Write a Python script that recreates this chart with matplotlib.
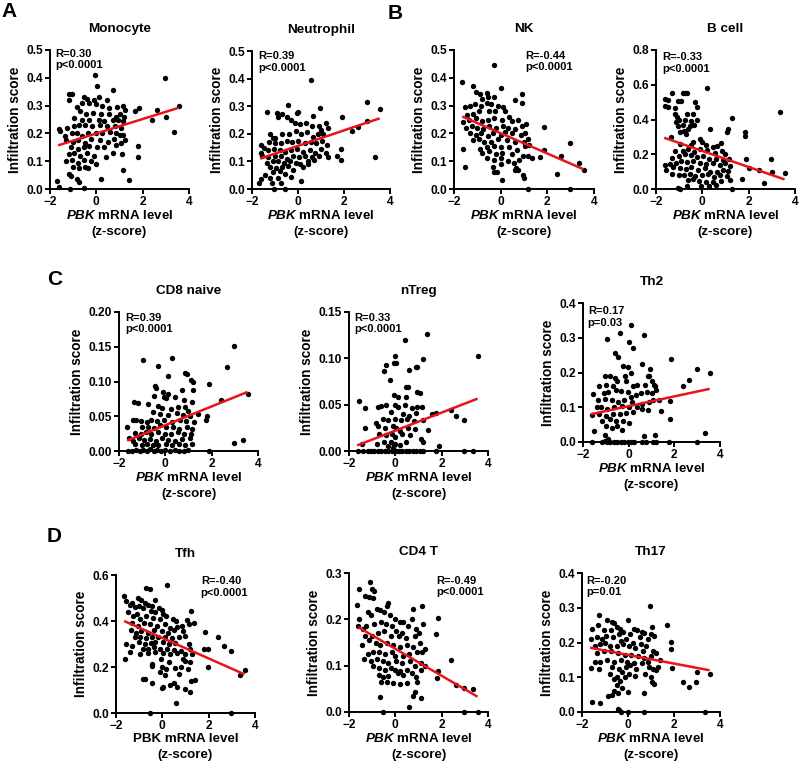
import matplotlib
matplotlib.use("Agg")
import matplotlib.pyplot as plt
from matplotlib.ticker import FormatStrFormatter, FixedLocator

plt.rcParams['font.family'] = ['Liberation Sans', 'DejaVu Sans']
plt.rcParams['font.weight'] = 'bold'
plt.rcParams['mathtext.fontset'] = 'custom'
plt.rcParams['mathtext.it'] = 'Liberation Sans:italic:bold'
plt.rcParams['mathtext.rm'] = 'Liberation Sans:bold'
plt.rcParams['mathtext.bf'] = 'Liberation Sans:bold'

# ---------------- data ----------------
mono_pts = [(-0.05,0.41),(2.98,0.40),(0.05,0.37),(0.7,0.355),
(-1.2,0.34),(-1.05,0.34),(-1.2,0.32),(-0.55,0.33),(-0.4,0.325),(-0.1,0.32),(0.1,0.33),(0.45,0.32),
(-0.85,0.295),(-0.6,0.31),(-0.3,0.31),(0.0,0.305),(0.25,0.3),(0.55,0.29),(0.9,0.295),(1.15,0.30),(1.25,0.285),(1.85,0.29),(1.65,0.28),(3.55,0.30),(3.0,0.26),(2.6,0.285),(2.4,0.25),(3.35,0.205),
(-0.7,0.28),(-0.45,0.27),(-0.15,0.275),(0.2,0.27),(0.55,0.27),(0.85,0.26),(1.0,0.27),(1.2,0.26),
(-0.95,0.255),(-0.6,0.25),(-0.3,0.25),(0.1,0.25),(0.35,0.245),(0.7,0.25),(0.95,0.25),(1.15,0.245),
(-1.6,0.215),(-1.55,0.21),(-1.25,0.22),(-0.95,0.225),(-0.75,0.23),(-0.5,0.23),(-0.2,0.225),(0.15,0.23),(0.45,0.225),(0.8,0.225),(1.05,0.22),
(-1.35,0.19),(-1.05,0.2),(-0.85,0.2),(-0.6,0.19),(-0.35,0.2),(0.0,0.2),(0.25,0.2),(0.6,0.205),(0.85,0.2),(1.0,0.195),(1.15,0.195),
(-1.3,0.175),(-1.0,0.17),(-0.8,0.175),(-0.5,0.165),(-0.25,0.18),(0.15,0.175),(0.5,0.17),(0.75,0.18),(1.05,0.165),(1.25,0.175),
(-1.1,0.15),(-0.8,0.145),(-0.55,0.15),(-0.3,0.155),(0.05,0.15),(0.35,0.15),(1.8,0.155),(0.85,0.16),
(-1.2,0.125),(-0.95,0.13),(-0.7,0.12),(-0.4,0.13),(-0.1,0.12),(0.4,0.115),(0.7,0.13),(1.1,0.125),(1.8,0.115),
(-1.3,0.1),(-1.05,0.105),(-0.8,0.095),(-0.55,0.105),(-0.25,0.1),(0.0,0.09),
(-1.0,0.08),(-0.75,0.075),(-0.5,0.08),(-0.35,0.075),
(-1.2,0.055),(-1.1,0.045),(-0.85,0.035),(-0.75,0.025),(0.2,0.037),(1.15,0.07),(1.4,0.033),
(-1.7,0.028),(-1.6,0.008),(-1.15,0.0),(-0.55,0.003)]
mono_fit = [(-1.65, 0.157), (3.55, 0.292)]

neut_pts = [(0.55,0.395),(3.0,0.315),(3.55,0.29),(-0.45,0.305),(0.0,0.28),(-0.05,0.275),(-1.35,0.278),(-0.9,0.275),(-0.7,0.27),(-0.85,0.26),(-0.5,0.26),(0.65,0.265),(0.95,0.295),(1.9,0.26),(3.0,0.245),(2.6,0.225),(2.35,0.21),
(-0.3,0.25),(-0.15,0.24),(0.1,0.235),(0.35,0.24),(0.6,0.23),(0.9,0.23),(1.2,0.24),(1.0,0.215),(1.3,0.22),
(-1.2,0.2),(-1.1,0.185),(-1.0,0.185),(-0.7,0.2),(-0.4,0.2),(-0.1,0.21),(0.15,0.2),(0.4,0.205),(0.65,0.19),(0.85,0.2),(1.1,0.2),
(-1.6,0.16),(-1.5,0.15),(-1.25,0.17),(-1.0,0.165),(-0.75,0.165),(-0.5,0.175),(-0.25,0.17),(0.0,0.175),(0.3,0.165),(0.55,0.17),(0.8,0.165),(1.05,0.175),(1.25,0.16),
(-1.6,0.13),(-1.3,0.14),(-1.05,0.145),(-0.8,0.14),(-0.55,0.135),(-0.3,0.14),(-0.05,0.145),(0.2,0.135),(0.5,0.14),(0.75,0.13),(1.0,0.145),(1.2,0.13),(1.85,0.145),
(-1.55,0.12),(-1.3,0.115),(-1.0,0.12),(-0.75,0.12),(-0.5,0.11),(-0.2,0.12),(0.05,0.115),(0.3,0.12),(0.6,0.115),(0.9,0.12),(1.3,0.115),(1.7,0.12),(1.85,0.105),(3.35,0.115),
(-1.35,0.095),(-1.1,0.1),(-0.85,0.1),(-0.6,0.095),(-0.35,0.1),(-0.1,0.095),(0.1,0.09),(0.45,0.1),(0.7,0.105),
(-1.2,0.08),(-0.95,0.075),(-0.7,0.08),(-0.45,0.085),(-0.2,0.07),(0.2,0.08),(0.45,0.09),
(-1.45,0.05),(-1.1,0.06),(-0.8,0.065),(-0.55,0.055),(-1.2,0.04),(-0.85,0.04),(-0.3,0.045),
(-1.7,0.02),(-1.6,0.035),(-1.15,0.02),(-0.75,0.02),(0.15,0.028),(-1.05,0.0),(-0.55,0.0)]
neut_fit = [(-1.65, 0.11), (3.55, 0.256)]

nk_pts = [(-0.3,0.445),(-1.65,0.385),(0.0,0.365),(-1.2,0.37),(-1.05,0.35),(-0.9,0.34),(-0.6,0.345),(-0.55,0.33),(-0.3,0.33),(-0.8,0.325),(0.6,0.32),(0.9,0.34),(0.9,0.31),
(-1.55,0.295),(-1.3,0.3),(-1.1,0.305),(-0.85,0.3),(-0.6,0.31),(-0.4,0.305),(-0.1,0.3),(0.1,0.295),(0.2,0.28),(-0.25,0.28),(-0.5,0.28),(-0.95,0.28),(-1.2,0.27),(-1.45,0.265),
(-1.6,0.24),(-1.35,0.25),(-1.05,0.255),(-0.8,0.245),(-0.55,0.25),(-0.3,0.255),(0.05,0.25),(0.35,0.26),(0.5,0.245),(0.75,0.25),(1.1,0.235),(0.9,0.225),
(-1.5,0.22),(-1.25,0.225),(-1.0,0.22),(-0.75,0.215),(-0.5,0.225),(-0.2,0.22),(0.1,0.225),(0.3,0.22),(0.6,0.215),(1.85,0.222),
(-1.3,0.2),(-1.05,0.195),(-0.85,0.2),(-0.55,0.19),(-0.35,0.2),(0.0,0.195),(0.2,0.205),(0.5,0.2),(0.85,0.195),(1.05,0.2),(1.15,0.18),
(-1.2,0.175),(-0.95,0.18),(-0.7,0.17),(-0.4,0.17),(-0.1,0.18),(0.25,0.175),(0.6,0.17),(1.0,0.17),(1.2,0.16),
(-1.6,0.145),(-0.9,0.145),(-0.6,0.15),(-0.3,0.155),(0.0,0.15),(0.35,0.15),(0.7,0.14),(1.05,0.155),(1.85,0.14),(2.95,0.165),
(-0.8,0.13),(-0.5,0.135),(-0.2,0.125),(0.05,0.13),(0.5,0.125),(0.95,0.12),(1.15,0.12),(1.35,0.11),(1.7,0.115),(2.6,0.12),
(-0.6,0.11),(-0.3,0.105),(0.0,0.11),(0.3,0.1),(0.8,0.105),
(-1.55,0.078),(-0.35,0.08),(0.0,0.09),(0.65,0.075),(0.75,0.07),(0.95,0.05),(1.0,0.04),(0.55,0.095),
(-0.3,0.06),(-0.15,0.06),(0.6,0.07),(0.05,0.033),(2.4,0.055),(3.35,0.093),(3.55,0.068),(1.15,0.0),(2.95,0.0)]
nk_fit = [(-1.65, 0.261), (3.55, 0.071)]

bcell_pts = [(0.2,0.58),(-1.3,0.555),(-0.85,0.555),(-0.65,0.555),(-0.75,0.555),(-1.6,0.52),(-1.5,0.51),(-1.05,0.505),(-0.9,0.505),(-0.3,0.5),(-1.6,0.48),(-1.5,0.47),(-1.2,0.465),(-0.25,0.47),(-1.2,0.43),(-1.1,0.415),(-1.0,0.4),(-1.15,0.385),(-0.65,0.43),(-0.4,0.43),(-0.75,0.4),(-0.5,0.39),(-0.25,0.4),(1.3,0.41),(3.35,0.445),
(-1.05,0.365),(-0.85,0.37),(-0.55,0.365),(-0.35,0.37),(-0.6,0.345),(-0.8,0.335),(-0.95,0.33),(-0.7,0.315),(-1.35,0.3),(0.35,0.345),(1.1,0.345),(1.05,0.33),(1.85,0.33),(1.85,0.305),
(-0.95,0.26),(-0.4,0.27),(-0.1,0.29),(0.0,0.27),(0.15,0.255),(0.65,0.25),(0.8,0.265),(0.45,0.24),(-0.5,0.255),
(-1.2,0.22),(-0.85,0.22),(-0.6,0.23),(-0.35,0.215),(-0.1,0.23),(0.2,0.225),(0.55,0.21),(0.85,0.22),(1.0,0.2),
(-1.3,0.18),(-1.0,0.19),(-0.75,0.2),(-0.5,0.195),(-0.25,0.185),(0.05,0.19),(0.3,0.17),(0.6,0.175),(0.9,0.165),(1.15,0.175),(1.9,0.17),(2.95,0.17),
(-1.6,0.14),(-1.4,0.145),(-1.15,0.15),(-0.9,0.16),(-0.65,0.155),(-0.4,0.16),(-0.1,0.15),(0.15,0.145),(0.45,0.15),(0.75,0.14),(1.0,0.15),(1.2,0.13),
(-1.55,0.11),(-1.25,0.125),(-0.95,0.12),(-0.7,0.115),(-0.5,0.125),(-0.2,0.11),(0.1,0.12),(0.35,0.1),(0.65,0.1),(0.9,0.11),(1.1,0.105),(2.0,0.12),(2.45,0.11),(3.0,0.1),(3.55,0.09),
(-1.3,0.085),(-1.0,0.08),(-0.8,0.08),(-0.55,0.085),(-0.3,0.075),(0.0,0.08),(0.25,0.085),(0.5,0.07),(0.75,0.08),(1.05,0.075),
(-0.6,0.05),(-0.4,0.055),(-0.15,0.045),(0.15,0.04),(0.45,0.04),(0.8,0.045),(1.2,0.05),(1.7,0.06),
(-0.65,0.02),(-0.05,0.02),(0.3,0.02),(0.6,0.025),(2.65,0.035),(-1.05,0.005),(-0.95,0.0),(1.3,0.0)]
bcell_fit = [(-1.65, 0.295), (3.55, 0.055)]

cd8_pts = [(2.95,0.151),(0.3,0.134),(-0.95,0.131),(-0.3,0.123),(2.65,0.121),(0.1,0.108),(0.95,0.111),(0.85,0.112),(1.2,0.1),(1.1,0.102),(1.9,0.096),(-0.45,0.094),(-0.4,0.09),(-0.1,0.085),(0.1,0.082),(0.7,0.088),(1.2,0.088),(3.55,0.082),(-0.05,0.078),(0.05,0.076),(0.4,0.078),(-0.5,0.079),(2.4,0.073),(0.8,0.074),(1.15,0.07),
(-1.35,0.07),(-1.2,0.069),(-0.75,0.068),(-0.3,0.065),(-0.15,0.062),(0.25,0.06),(0.55,0.063),(0.85,0.064),(1.0,0.058),
(-0.55,0.056),(-0.25,0.053),(0.1,0.052),(0.5,0.055),(0.75,0.052),(1.05,0.05),(1.4,0.053),(1.8,0.05),(1.75,0.045),
(-1.4,0.045),(-1.25,0.044),(-1.05,0.043),(-0.8,0.042),(-0.6,0.045),(-0.35,0.043),(-0.05,0.045),(0.3,0.042),(0.65,0.045),(0.9,0.043),(1.25,0.042),
(-1.0,0.035),(-0.75,0.034),(-0.5,0.033),(-0.25,0.037),(0.05,0.035),(0.35,0.034),(0.6,0.032),(0.95,0.035),(1.15,0.032),(-1.65,0.034),
(-1.3,0.026),(-1.05,0.025),(-0.85,0.027),(-0.6,0.025),(-0.3,0.027),(0.0,0.024),(0.25,0.025),(0.55,0.027),(0.8,0.024),(1.1,0.025),
(-1.55,0.018),(-1.4,0.015),(-1.15,0.018),(-0.9,0.016),(-0.65,0.017),(-0.4,0.015),(-0.15,0.018),(0.1,0.016),(0.4,0.015),(0.7,0.017),(1.05,0.018),
(-1.3,0.01),(-1.0,0.008),(-0.8,0.01),(-0.55,0.008),(-0.3,0.009),(0.05,0.01),(0.3,0.008),(0.6,0.01),(0.85,0.008),(1.15,0.01),(2.95,0.012),(3.35,0.016),
(-1.6,0.0),(-1.45,0.0),(-1.25,0.002),(-1.1,0.0),(-0.95,0.002),(-0.8,0.0),(-0.65,0.003),(-0.5,0.0),(-0.35,0.002),(-0.2,0.0),(0.0,0.001),(0.2,0.0),(0.4,0.002),(0.6,0.0),(0.8,0.0),(1.0,0.001),(1.9,0.0)]
cd8_fit = [(-1.65, 0.015), (3.55, 0.085)]

ntreg_pts = [(1.35,0.126),(0.4,0.12),(3.55,0.103),(0.0,0.103),(1.2,0.099),(-0.05,0.095),(0.05,0.095),(-0.4,0.093),(-0.5,0.086),(0.9,0.091),(0.95,0.091),(0.6,0.087),(-0.25,0.077),(0.45,0.069),(0.55,0.069),(0.95,0.064),(-0.05,0.06),(0.1,0.058),(0.45,0.058),(1.05,0.063),
(-1.55,0.054),(-0.75,0.048),(-0.6,0.049),(-0.4,0.05),(0.0,0.05),(0.1,0.048),(0.4,0.05),(0.7,0.046),(0.95,0.048),(1.15,0.047),
(-1.3,0.046),(-0.2,0.042),(0.35,0.04),(0.6,0.038),(0.9,0.041),(1.6,0.04),(1.75,0.041),(2.4,0.044),(2.6,0.038),
(-0.55,0.035),(-0.3,0.033),(0.0,0.035),(0.25,0.033),(0.5,0.035),(0.8,0.032),(1.2,0.033),(2.95,0.033),
(-0.85,0.03),(-0.75,0.027),(-0.45,0.025),(-0.1,0.027),(0.05,0.025),(0.2,0.022),(0.55,0.025),(0.85,0.024),(1.4,0.023),(-1.3,0.025),
(-0.7,0.018),(-0.4,0.017),(-0.15,0.018),(0.0,0.015),(0.3,0.018),(0.65,0.017),(1.1,0.013),
(-1.45,0.008),(-0.8,0.008),(-0.5,0.01),(-0.2,0.01),(0.0,0.008),(0.2,0.007),(0.45,0.01),(1.2,0.01),(1.9,0.005),(-0.3,0.005),
(-1.6,0.0),(-1.4,0.0),(-1.2,0.0),(-1.05,0.0),(-0.9,0.0),(-0.75,0.0),(-0.6,0.0),(-0.45,0.0),(-0.3,0.0),(-0.15,0.0),(-0.05,0.0),(0.05,0.0),(0.15,0.0),(0.3,0.0),(0.45,0.0),(0.6,0.0),(0.75,0.0),(0.9,0.0),(1.05,0.0),(1.2,0.0),(1.75,0.0),(2.95,0.0),(3.35,0.0),(-0.1,0.003),(-0.05,0.006)]
ntreg_fit = [(-1.65, 0.006), (3.55, 0.0565)]

th2_pts = [(0.1,0.337),(-0.4,0.315),(0.65,0.307),(-0.95,0.295),(0.0,0.288),(0.2,0.27),(-0.6,0.255),(-0.45,0.245),(1.85,0.24),(-0.25,0.22),(-0.05,0.215),(0.6,0.225),(3.0,0.21),(3.55,0.2),(0.9,0.19),(0.95,0.21),
(-1.05,0.19),(-0.8,0.19),(-0.6,0.185),(-0.15,0.19),(0.1,0.2),(0.85,0.19),(2.65,0.178),(2.4,0.16),
(-1.3,0.16),(-1.0,0.165),(-0.7,0.16),(-0.5,0.175),(-0.1,0.175),(0.2,0.16),(0.35,0.165),(0.7,0.165),(1.0,0.175),(1.1,0.165),(1.15,0.16),
(-1.55,0.138),(-1.1,0.14),(-0.9,0.145),(-0.55,0.15),(-0.35,0.148),(-0.05,0.145),(0.1,0.13),(0.3,0.135),(0.55,0.14),(0.8,0.145),(1.0,0.14),(1.2,0.15),
(-1.35,0.12),(-1.05,0.125),(-0.75,0.12),(-0.45,0.115),(-0.2,0.12),(0.15,0.115),(0.6,0.11),(0.9,0.115),(1.05,0.12),(1.35,0.12),(1.8,0.118),
(-1.4,0.1),(-1.2,0.1),(-0.95,0.095),(-0.65,0.1),(-0.3,0.105),(0.0,0.1),(0.35,0.1),(0.6,0.095),(0.85,0.092),(1.4,0.09),
(-1.6,0.078),(-1.3,0.08),(-1.0,0.075),(-0.7,0.08),(-0.4,0.08),(-0.1,0.083),(0.2,0.085),
(-1.15,0.06),(-0.8,0.065),(-0.55,0.06),(-0.25,0.06),(0.0,0.055),(1.8,0.067),
(-1.0,0.045),(-0.75,0.04),(-0.5,0.045),(-0.3,0.035),(-1.5,0.033),
(-1.05,0.02),(-0.9,0.01),(0.65,0.018),(1.15,0.02),(3.35,0.027),
(-1.6,0.0),(-1.15,0.0),(-1.05,0.003),(-0.95,0.0),(-0.8,0.0),(-0.65,0.0),(-0.5,0.0),(-0.35,0.0),(-0.2,0.0),(-0.05,0.0),(0.1,0.0),(0.25,0.0),(0.6,0.0),(0.75,0.0),(1.05,0.0),(1.2,0.0),(1.75,0.0),(3.0,0.0)]
th2_fit = [(-1.65, 0.08), (3.55, 0.153)]

tfh_pts = [(0.2,0.555),(-0.7,0.545),(-0.55,0.54),(-1.65,0.51),(-1.05,0.5),(-0.9,0.49),(-0.3,0.49),(-1.55,0.485),(-1.3,0.48),(-0.75,0.48),(-0.6,0.47),(-0.45,0.465),(-0.15,0.455),(0.0,0.45),
(-1.4,0.47),(-1.2,0.46),(-1.0,0.465),(-0.85,0.455),(-0.5,0.445),(-0.3,0.44),(0.05,0.43),(1.25,0.445),
(-1.5,0.44),(-1.25,0.42),(-1.1,0.43),(-0.95,0.41),(-0.7,0.42),(-0.4,0.415),(-0.1,0.41),(0.15,0.42),(0.45,0.41),(0.6,0.4),(1.05,0.405),(1.35,0.39),
(-1.3,0.39),(-1.05,0.38),(-0.8,0.39),(-0.55,0.385),(-0.25,0.38),(0.1,0.385),(0.35,0.37),(0.65,0.375),(0.85,0.38),(1.15,0.385),
(-1.35,0.36),(-1.15,0.35),(-0.9,0.355),(-0.6,0.35),(-0.35,0.36),(0.0,0.355),(0.25,0.35),(0.5,0.36),(0.9,0.355),(1.85,0.352),(2.4,0.33),
(-1.2,0.33),(-0.95,0.33),(-0.7,0.325),(-0.45,0.33),(-0.2,0.33),(0.1,0.33),(0.4,0.325),(0.7,0.33),(1.0,0.335),
(-1.0,0.31),(-0.75,0.3),(-0.5,0.305),(-0.3,0.31),(0.05,0.31),(0.3,0.3),(0.55,0.305),(1.15,0.3),(2.65,0.29),
(-1.55,0.3),(-1.3,0.29),(-0.85,0.28),(-0.6,0.28),(-0.35,0.285),(-0.1,0.28),(0.2,0.28),(0.5,0.275),(0.8,0.27),(1.2,0.28),(1.8,0.278),(1.95,0.278),(2.95,0.27),
(-1.4,0.265),(-0.95,0.255),(-0.6,0.26),(-0.3,0.265),(0.05,0.26),(0.35,0.255),(0.65,0.26),(1.0,0.255),(1.3,0.255),
(-1.6,0.235),(-0.45,0.215),(-0.05,0.235),(0.3,0.22),(0.9,0.235),(1.2,0.22),(1.0,0.225),
(-0.45,0.205),(0.0,0.2),(0.15,0.19),(0.55,0.195),(0.8,0.2),(1.1,0.19),(1.95,0.2),(3.35,0.165),(3.55,0.185),
(-0.1,0.18),(0.1,0.165),(0.7,0.17),(1.4,0.145),(1.25,0.14),
(-0.85,0.15),(-0.75,0.15),(-0.45,0.13),(0.35,0.12),(0.0,0.11),(0.05,0.115),(0.5,0.13),(0.65,0.115),(1.0,0.105),(1.2,0.09),
(0.6,0.043),(-0.55,0.0),(2.95,0.0)]
tfh_fit = [(-1.65, 0.40), (3.55, 0.168)]

cd4_pts = [(-1.1,0.28),(-1.55,0.265),(-1.0,0.265),(-0.9,0.262),(-1.3,0.25),(-1.15,0.248),(-0.95,0.245),(-1.65,0.232),(-0.3,0.235),(-0.35,0.228),(1.15,0.228),(0.75,0.222),
(-1.55,0.2),(-1.2,0.215),(-1.05,0.21),(-0.8,0.222),(-0.65,0.22),(-0.5,0.215),(-0.25,0.21),(0.0,0.2),(0.2,0.195),(0.35,0.195),(0.7,0.2),(1.85,0.203),
(-1.4,0.18),(-1.25,0.185),(-0.9,0.19),(-0.6,0.195),(-0.4,0.19),(-0.15,0.185),(0.05,0.175),(0.3,0.17),(0.55,0.185),(0.9,0.18),(1.2,0.19),(1.75,0.168),
(-1.6,0.185),(-1.3,0.165),(-1.0,0.165),(-0.75,0.17),(-0.5,0.175),(-0.2,0.165),(0.15,0.165),(0.45,0.16),(0.85,0.165),(1.0,0.17),
(-1.45,0.145),(-1.15,0.155),(-0.85,0.15),(-0.65,0.145),(-0.35,0.15),(-0.1,0.145),(0.2,0.14),(0.5,0.145),(0.75,0.14),(1.05,0.15),(1.3,0.135),
(-1.2,0.125),(-0.95,0.13),(-0.7,0.13),(-0.45,0.125),(-0.15,0.13),(0.0,0.12),(0.35,0.12),(0.6,0.125),(0.95,0.13),(1.15,0.13),
(-1.35,0.115),(-1.05,0.11),(-0.8,0.115),(-0.55,0.11),(-0.3,0.105),(0.05,0.11),(0.3,0.105),(0.65,0.11),(0.85,0.1),(1.1,0.105),(1.3,0.1),(2.4,0.113),
(-0.95,0.1),(-0.7,0.095),(-0.45,0.09),(-0.2,0.095),(0.0,0.09),(0.2,0.088),(0.5,0.09),(0.7,0.085),(1.1,0.09),(1.85,0.088),
(-0.7,0.08),(-0.55,0.075),(-0.3,0.078),(0.1,0.085),(0.35,0.08),(0.9,0.075),(1.8,0.073),
(-0.6,0.065),(-0.35,0.065),(-0.1,0.063),(0.2,0.06),(0.5,0.063),(0.95,0.065),(2.6,0.058),(2.95,0.052),(3.35,0.049),
(-0.65,0.033),(0.75,0.035),(0.85,0.043),(1.1,0.031),(0.6,0.01),(-0.55,0.0),(2.95,0.0),(3.55,0.0)]
cd4_fit = [(-1.6, 0.183), (3.55, 0.033)]

th17_pts = [(0.95,0.305),(-1.25,0.28),(-0.9,0.265),(0.0,0.265),(-0.7,0.258),(-0.6,0.255),(-1.3,0.25),(-0.5,0.245),(-0.35,0.24),(0.25,0.24),(0.4,0.235),(0.6,0.23),(0.7,0.228),(1.05,0.245),(1.7,0.25),(1.0,0.225),(1.15,0.22),
(-1.55,0.238),(-1.05,0.235),(-0.75,0.235),(-0.4,0.225),(-0.2,0.23),(0.1,0.225),(0.5,0.215),(0.85,0.21),
(-1.6,0.21),(-1.35,0.215),(-1.15,0.21),(-0.95,0.22),(-0.65,0.215),(-0.3,0.205),(-0.1,0.21),(0.2,0.2),(0.55,0.195),(0.8,0.19),(1.85,0.202),
(-1.45,0.19),(-1.2,0.195),(-1.0,0.2),(-0.8,0.19),(-0.5,0.19),(-0.2,0.195),(0.05,0.19),(0.3,0.185),(0.65,0.175),(1.85,0.18),(1.2,0.17),(1.1,0.175),
(-1.35,0.17),(-1.05,0.175),(-0.75,0.175),(-0.45,0.17),(-0.15,0.165),(0.15,0.165),(0.45,0.16),(0.7,0.155),(1.0,0.16),
(-1.45,0.145),(-1.2,0.145),(-0.9,0.15),(-0.6,0.145),(-0.3,0.15),(-0.05,0.145),(0.25,0.14),(0.6,0.14),(0.85,0.145),(1.4,0.15),
(-1.6,0.128),(-1.25,0.125),(-0.7,0.13),(-0.4,0.125),(-0.1,0.13),(0.1,0.135),(0.35,0.125),(0.9,0.13),(1.1,0.125),(1.3,0.13),(1.9,0.127),
(-0.8,0.11),(-0.5,0.1),(-0.25,0.115),(0.05,0.11),(0.3,0.105),(0.75,0.11),(1.0,0.1),(1.2,0.12),(3.0,0.115),(3.55,0.11),
(-0.6,0.095),(-0.35,0.09),(-0.15,0.1),(1.05,0.085),(1.15,0.08),(2.4,0.085),(2.95,0.085),(2.65,0.072),
(-0.5,0.078),(-0.25,0.07),(-0.6,0.06),(-0.85,0.045),(-0.7,0.05),(-0.45,0.055),(0.0,0.058),(0.7,0.055),
(-1.55,0.028),(-1.2,0.025),(-0.45,0.01),(-0.4,0.005),(-0.3,0.0),(0.0,0.0),(0.7,0.0),(3.35,0.0)]
th17_fit = [(-1.65, 0.185), (3.55, 0.12)]

titles = ["Monocyte", "Neutrophil", "NK", "B cell", "CD8 naive", "nTreg", "Th2", "Tfh", "CD4 T", "Th17"]
stats = ["R=0.30\np<0.0001", "R=0.39\np<0.0001", "R=-0.44\np<0.0001", "R=-0.33\np<0.0001",
         "R=0.39\np<0.0001", "R=0.33\np<0.0001", "R=0.17\np=0.03",
         "R=-0.40\np<0.0001", "R=-0.49\np<0.0001", "R=-0.20\np=0.01"]
yticks = [[0.0, 0.1, 0.2, 0.3, 0.4, 0.5], [0.0, 0.1, 0.2, 0.3, 0.4, 0.5],
          [0.0, 0.1, 0.2, 0.3, 0.4, 0.5], [0.0, 0.2, 0.4, 0.6, 0.8],
          [0.00, 0.05, 0.10, 0.15, 0.20], [0.00, 0.05, 0.10, 0.15],
          [0.0, 0.1, 0.2, 0.3, 0.4], [0.0, 0.2, 0.4, 0.6],
          [0.0, 0.1, 0.2, 0.3], [0.0, 0.1, 0.2, 0.3, 0.4]]
xticks = [-2, 0, 2, 4]
panel_letters = ["A", "B", "C", "D"]

pts_all = [mono_pts, neut_pts, nk_pts, bcell_pts, cd8_pts, ntreg_pts, th2_pts, tfh_pts, cd4_pts, th17_pts]
fits_all = [mono_fit, neut_fit, nk_fit, bcell_fit, cd8_fit, ntreg_fit, th2_fit, tfh_fit, cd4_fit, th17_fit]

# ---------------- layout (pixels) ----------------
W, H = 800, 771
boxes = [(50, 50, 139, 139), (252, 51, 138, 138), (454, 50, 140, 139), (656, 50, 139, 139),
         (119, 312, 139, 139), (349, 312, 139, 139), (583, 303, 137, 139),
         (116, 575, 139, 138), (349, 573, 139, 139), (582, 573, 138, 139)]
stat_pos = [(0.035, 1.01), (0.045, 1.0), (0.51, 0.995), (0.045, 0.985),
            (0.045, 0.995), (0.04, 0.995), (0.035, 0.975),
            (0.61, 0.99), (0.63, 0.98), (0.03, 0.98)]
yfmt = ["%.1f"] * 4 + ["%.2f", "%.2f", "%.1f"] + ["%.1f"] * 3
italic_label = [True] * 7 + [False, True, True]

fig = plt.figure(figsize=(W / 100, H / 100), dpi=100)

for i in range(10):
    l, t, w, h = boxes[i]
    ax = fig.add_axes([l / W, (H - t - h) / H, w / W, h / H])
    xs = [p[0] for p in pts_all[i]]
    ys = [p[1] for p in pts_all[i]]
    ax.scatter(xs, ys, s=15, color="black", linewidths=0, clip_on=False, zorder=3)
    fx = [p[0] for p in fits_all[i]]
    fy = [p[1] for p in fits_all[i]]
    ax.plot(fx, fy, color="#e8141b", lw=1.8, zorder=4, solid_capstyle="butt")
    ax.set_xlim(-2, 4)
    ax.set_ylim(yticks[i][0], yticks[i][-1])
    ax.xaxis.set_major_locator(FixedLocator(xticks))
    ax.yaxis.set_major_locator(FixedLocator(yticks[i]))
    ax.yaxis.set_major_formatter(FormatStrFormatter(yfmt[i]))
    for s in ["top", "right"]:
        ax.spines[s].set_visible(False)
    for s in ["left", "bottom"]:
        ax.spines[s].set_linewidth(1.4)
    ax.tick_params(width=1.4, length=3.5, labelsize=8.6, pad=1.5)
    for lab in ax.get_xticklabels() + ax.get_yticklabels():
        lab.set_fontweight("bold")
    ax.set_title(titles[i], fontsize=9.7, fontweight="bold", pad=13)
    ax.set_ylabel("Infiltration score", fontsize=9.8, fontweight="bold", labelpad=3)
    if italic_label[i]:
        xl = r"$\mathit{PBK}$ mRNA level" + "\n(z-score)"
    else:
        xl = "PBK mRNA level\n(z-score)"
    ax.set_xlabel(xl, fontsize=9.6, fontweight="bold", labelpad=1, linespacing=1.4)
    sx, sy = stat_pos[i]
    ax.text(sx, sy, stats[i], transform=ax.transAxes, ha="left", va="top",
            fontsize=8.0, fontweight="bold", linespacing=1.2)

letter_pos = [(1, 2), (388, 4), (47, 270), (47, 527)]
for letter, (px, py) in zip(panel_letters, letter_pos):
    fig.text(px / W, 1 - py / H, letter, fontsize=15, fontweight="bold", ha="left", va="top")

fig.savefig("out.png", dpi=100)
